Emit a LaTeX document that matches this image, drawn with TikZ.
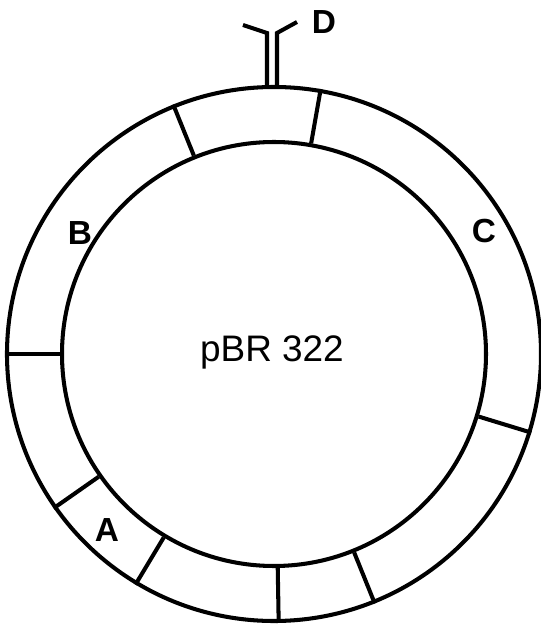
\documentclass[tikz,border=0pt]{standalone}
\usepackage{fontspec}
\setmainfont{Liberation Sans}
\usetikzlibrary{arrows,shapes}
\tikzstyle{ring}=[circle,draw=black!100,line width=2.3pt,inner sep=0pt]
\tikzstyle{seg}=[line width=2.3pt]
\tikzstyle{lab}=[font=\bfseries\fontsize{19}{19}\selectfont]

\begin{document}
\begin{tikzpicture}[x=0.2mm,y=0.2mm,seg]
\useasboundingbox (0,0) rectangle (541,625);
\node[ring,minimum size=10.68cm] (outer) at (274,271) {};
\node[ring,minimum size=8.48cm] (inner) at (274,271) {};
\node[font=\fontsize{21}{21}\selectfont] (pbr) at (272,273) {pBR 322};
\node[lab] (A) at (107,95) {A};
\node[lab] (B) at (80,392) {B};
\node[lab] (C) at (484,394) {C};
\node[lab] (D) at (324,603) {D};
\coordinate (Dl) at (267,592);
\coordinate (Dr) at (277,592);
\draw (inner.80)--(outer.80);
\draw (inner.112)--(outer.112);
\draw (inner.180)--(outer.180);
\draw (inner.215)--(outer.215);
\draw (inner.239)--(outer.239);
\draw (inner.271)--(outer.271);
\draw (inner.292)--(outer.292);
\draw (inner.343.5)--(outer.343.5);
\draw (Dl |- outer.north)--(Dl)--(243,600);
\draw (Dr |- outer.north)--(Dr)--(297,603);
\end{tikzpicture}
\end{document}
